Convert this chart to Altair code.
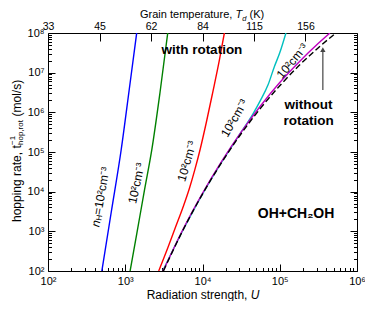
import altair as alt
import pandas as pd

# ---------------- data (log10 values) ----------------
blue_logU = [2.697, 2.82, 2.947, 3.05, 3.148]
blue_logR = [2.0, 3.5, 5.05, 6.55, 8.0]
green_logU = [3.063, 3.15, 3.25, 3.345, 3.45, 3.55]
green_logR = [2.0, 2.95, 4.05, 5.07, 6.5, 8.0]
red_logU = [3.433, 3.55, 3.65, 3.75, 3.83, 3.90, 3.97, 4.05, 4.13, 4.219, 4.283]
red_logR = [2.0, 2.58, 3.1, 3.62, 4.08, 4.55, 5.07, 5.75, 6.48, 7.32, 8.0]
cyan_logU = [3.49, 3.75, 4.0, 4.25, 4.5, 4.65, 4.75, 4.85, 4.93, 5.0, 5.08]
cyan_logR = [2.02, 3.04, 3.94, 4.75, 5.50, 5.95, 6.30, 6.70, 7.15, 7.50, 8.0]
magenta_logU = [3.49, 3.75, 4.0, 4.25, 4.5, 4.75, 5.0, 5.25, 5.5, 5.65]
magenta_logR = [2.0, 3.06, 3.96, 4.77, 5.50, 6.16, 6.75, 7.27, 7.74, 8.0]
black_logU = [3.494, 3.75, 4.0, 4.25, 4.5, 4.75, 5.0, 5.25, 5.5, 5.728]
black_logR = [2.0, 3.04, 3.94, 4.74, 5.46, 6.10, 6.67, 7.18, 7.63, 8.0]

series_names = ["blue", "green", "red", "cyan", "magenta"]
series_colors = ["#0000ff", "#008000", "#ff0000", "#00bfbf", "#c000c0"]

x_major_exp = [2, 3, 4, 5, 6]
y_major_exp = [2, 3, 4, 5, 6, 7, 8]
top_T_labels = ["33", "45", "62", "84", "115", "156"]
top_logU = [2.0, 2.667, 3.333, 4.0, 4.667, 5.333]

# rotated density labels: (logU, logR, angle, text)
dens_labels = [
    (3.145, 4.212, 282, "10²cm⁻³"),
    (3.798, 4.768, 286, "10²cm⁻³"),
    (4.413, 5.854, 300, "10²cm⁻³"),
    (5.163, 7.293, 310, "10²cm⁻³"),
]
blue_label_start = (2.612, 3.114)

bold_texts = ["with rotation", "without", "rotation", "OH+CH₂OH"]
bold_logU = [3.992, 5.373, 5.373, 5.211]
bold_logR = [7.571, 6.19, 5.77, 3.447]
bold_sizes = [13.5, 13.5, 13.5, 14]

arrow_logU = 5.558
arrow_logR = (6.56, 7.58)

FONT = "Liberation Sans"
W, H = 309, 238

# ---------------- build tables ----------------
rows = []
for name, us, rs in zip(series_names,
                        [blue_logU, green_logU, red_logU, cyan_logU, magenta_logU],
                        [blue_logR, green_logR, red_logR, cyan_logR, magenta_logR]):
    for i, (u, r) in enumerate(zip(us, rs)):
        rows.append({"series": name, "i": i, "U": 10 ** u, "R": 10 ** r})
lines_df = pd.DataFrame(rows)
black_df = pd.DataFrame({"i": range(len(black_logU)),
                         "U": [10 ** u for u in black_logU],
                         "R": [10 ** r for r in black_logR]})

xs = alt.Scale(type="log", domain=[1e2, 1e6], nice=False)
ys = alt.Scale(type="log", domain=[1e2, 1e8], nice=False)

x_major = [10 ** e for e in x_major_exp]
y_major = [10 ** e for e in y_major_exp]
x_minor = [k * 10 ** e for e in x_major_exp[:-1] for k in range(2, 10)]
y_minor = [k * 10 ** e for e in y_major_exp[:-1] for k in range(2, 10)]
top_vals = [10 ** u for u in top_logU]

sup_arr = "['','','10²','10³','10⁴','10⁵','10⁶','10⁷','10⁸']"
pow_expr = sup_arr + "[round(log(datum.value)/LN10)]"
top_expr = "[" + ",".join(f"'{t}'" for t in top_T_labels) + "][round((log(datum.value)/LN10-2)*1.5)]"


def ax_layer(xaxis=None, yaxis=None):
    return alt.Chart(black_df).mark_line(opacity=0).encode(
        x=alt.X("U:Q", scale=xs, axis=xaxis),
        y=alt.Y("R:Q", scale=ys, axis=yaxis),
    )


common = dict(grid=False, domain=False, title=None, labelFont=FONT,
              labelColor="black", tickColor="black", labelFlush=False,
              labelOverlap=False, labelBound=False)

axis_layers = [
    # bottom labels
    ax_layer(xaxis=alt.Axis(orient="bottom", values=x_major, ticks=False,
                            labelExpr=pow_expr, labelFontSize=11, labelPadding=4, **common)),
    # bottom inward ticks (major + minor)
    ax_layer(xaxis=alt.Axis(orient="top", offset=-H, values=x_major, tickSize=7,
                            labels=False, **common)),
    ax_layer(xaxis=alt.Axis(orient="top", offset=-H, values=x_minor, tickSize=3.5,
                            labels=False, **common)),
    # top temperature labels
    ax_layer(xaxis=alt.Axis(orient="top", values=top_vals, ticks=False,
                            labelExpr=top_expr, labelFontSize=10.5, labelPadding=1.5, **common)),
    # top inward ticks
    ax_layer(xaxis=alt.Axis(orient="bottom", offset=-H, values=top_vals[1:], tickSize=8,
                            labels=False, **common)),
    # left labels
    ax_layer(yaxis=alt.Axis(orient="left", values=y_major, ticks=False,
                            labelExpr=pow_expr, labelFontSize=11, labelPadding=4, **common)),
    # left inward ticks
    ax_layer(yaxis=alt.Axis(orient="right", offset=-W, values=y_major, tickSize=7,
                            labels=False, **common)),
    ax_layer(yaxis=alt.Axis(orient="right", offset=-W, values=y_minor, tickSize=3.5,
                            labels=False, **common)),
    # right inward ticks
    ax_layer(yaxis=alt.Axis(orient="left", offset=-W, values=y_major, tickSize=7,
                            labels=False, **common)),
    ax_layer(yaxis=alt.Axis(orient="left", offset=-W, values=y_minor, tickSize=3.5,
                            labels=False, **common)),
]

colored = alt.Chart(lines_df).mark_line(strokeWidth=1.4, clip=True, interpolate="monotone").encode(
    x=alt.X("U:Q", scale=xs, axis=None),
    y=alt.Y("R:Q", scale=ys, axis=None),
    color=alt.Color("series:N", scale=alt.Scale(domain=series_names, range=series_colors), legend=None),
    order="i:Q",
)
black = alt.Chart(black_df).mark_line(strokeWidth=1.4, color="black", strokeDash=[6, 3],
                                      clip=True, interpolate="monotone").encode(
    x=alt.X("U:Q", scale=xs, axis=None),
    y=alt.Y("R:Q", scale=ys, axis=None),
    order="i:Q",
)

# rotated density labels
ann_layers = []
for u, r, ang, txt in dens_labels:
    d = pd.DataFrame({"U": [10 ** u], "R": [10 ** r]})
    ann_layers.append(alt.Chart(d).mark_text(text=txt, angle=ang, font=FONT, fontSize=12,
                                             align="center", baseline="middle", color="black").encode(
        x=alt.X("U:Q", scale=xs, axis=None), y=alt.Y("R:Q", scale=ys, axis=None)))

bd = pd.DataFrame({"U": [10 ** blue_label_start[0]], "R": [10 ** blue_label_start[1]]})
for txt, dx, dy, fs, style in [("n", 0, 0, 12, "italic"), ("H", 6.7, 3, 8, "normal"),
                               ("=10²cm⁻³", 12.3, 0, 12, "normal")]:
    ann_layers.append(alt.Chart(bd).mark_text(text=txt, angle=280, font=FONT, fontSize=fs,
                                              fontStyle=style, dx=dx, dy=dy, align="left",
                                              baseline="middle", color="black").encode(
        x=alt.X("U:Q", scale=xs, axis=None), y=alt.Y("R:Q", scale=ys, axis=None)))

bold_df = pd.DataFrame({"t": bold_texts, "U": [10 ** u for u in bold_logU],
                        "R": [10 ** r for r in bold_logR], "s": bold_sizes})
for s in sorted(set(bold_sizes)):
    ann_layers.append(alt.Chart(bold_df[bold_df.s == s]).mark_text(
        font=FONT, fontSize=s, fontWeight="bold", align="center", baseline="middle", color="black").encode(
        x=alt.X("U:Q", scale=xs, axis=None), y=alt.Y("R:Q", scale=ys, axis=None), text="t:N"))

arrow_df = pd.DataFrame({"U": [10 ** arrow_logU], "R": [10 ** arrow_logR[0]], "R2": [10 ** arrow_logR[1]]})
ann_layers.append(alt.Chart(arrow_df).mark_rule(color="#444444", strokeWidth=1.2).encode(
    x=alt.X("U:Q", scale=xs, axis=None), y=alt.Y("R:Q", scale=ys, axis=None), y2="R2:Q"))
ann_layers.append(alt.Chart(arrow_df).mark_point(shape="triangle-up", size=28, filled=True,
                                                 color="#444444", opacity=1).encode(
    x=alt.X("U:Q", scale=xs, axis=None), y=alt.Y("R2:Q", scale=ys, axis=None)))

# axis titles (pixel placed pieces)
one = pd.DataFrame({"a": [0]})


def ptext(txt, x, y, fs=12, style="normal", angle=0, dx=0, dy=0, align="left"):
    kw = dict(text=txt, font=FONT, fontSize=fs, fontStyle=style, align=align,
              baseline="middle", color="black", dx=dx, dy=dy)
    if angle:
        kw["angle"] = angle
    return alt.Chart(one).mark_text(**kw).encode(x=alt.value(x), y=alt.value(y))


title_layers = [
    ptext("Radiation strength,", 98.7, 262),
    ptext("U", 202.7, 262, style="italic"),
    ptext("Grain temperature,", 92, -18, fs=11),
    ptext("T", 187.5, -18, fs=11, style="italic"),
    ptext("d", 194.3, -14.5, fs=7.5, style="italic"),
    ptext("(K)", 201.5, -18, fs=11),
    ptext("hopping rate, t", -31, 189, angle=270),
    ptext("−1", -31, 189, fs=8, angle=270, dx=77, dy=-4),
    ptext("hop,rot", -31, 189, fs=8, angle=270, dx=77, dy=4),
    ptext("(mol/s)", -31, 189, angle=270, dx=105.5),
]

chart = alt.layer(*axis_layers, colored, black, *ann_layers, *title_layers).resolve_axis(
    x="independent", y="independent"
).properties(
    width=W, height=H,
    padding={"left": 40, "top": 25, "right": 8, "bottom": 30},
    autosize=alt.AutoSizeParams(type="none"),
    background="white",
).configure_view(stroke="black", strokeWidth=1)

chart.save("out.html", embed_options={"renderer": "svg", "actions": False})
